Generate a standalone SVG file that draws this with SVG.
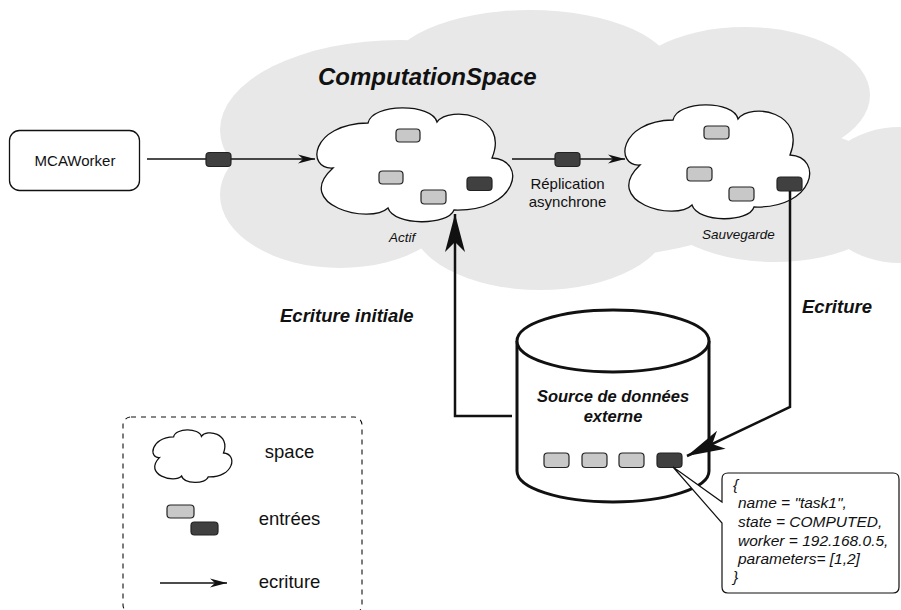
<svg xmlns="http://www.w3.org/2000/svg" width="901" height="610" viewBox="0 0 901 610">
<defs>
<style>
text{font-family:"Liberation Sans",Arial,Helvetica,sans-serif;fill:#111}
.bi{font-weight:bold;font-style:italic}
.it{font-style:italic}
.cloud{fill:#fff;stroke:#111;stroke-width:1.3}
.el{fill:#c8c8c8;stroke:#222;stroke-width:1.2}
.ed{fill:#404040;stroke:#222;stroke-width:1.2}
.thin{fill:none;stroke:#111;stroke-width:1.3}
.thick{fill:none;stroke:#111;stroke-width:2.5}
.gray{fill:#e8e8e8}
</style>
<marker id="ah" markerUnits="userSpaceOnUse" viewBox="-18 -6 19 12" markerWidth="19" markerHeight="12" refX="0" refY="0" orient="auto"><path d="M0,0 L-17,-4.5 L-12,0 L-17,4.5 Z" fill="#111"/></marker>
<marker id="ahb" markerUnits="userSpaceOnUse" viewBox="-40 -12 41 24" markerWidth="41" markerHeight="24" refX="0" refY="0" orient="auto"><path d="M0,0 L-38,-10 L-28,0 L-38,10 Z" fill="#111"/></marker>
</defs>
<rect width="901" height="610" fill="#fff"/>

<g id="computation-space">
<ellipse class="gray" cx="400" cy="130" rx="180" ry="90"/>
<ellipse class="gray" cx="530" cy="75" rx="145" ry="65"/>
<ellipse class="gray" cx="745" cy="95" rx="125" ry="68"/>
<ellipse class="gray" cx="900" cy="195" rx="85" ry="68"/>
<ellipse class="gray" cx="775" cy="195" rx="125" ry="67"/>
<ellipse class="gray" cx="540" cy="220" rx="130" ry="70"/>
<ellipse class="gray" cx="340" cy="195" rx="120" ry="73"/>
<ellipse class="gray" cx="560" cy="160" rx="250" ry="100"/>
<text x="318" y="85" class="bi" font-size="24">ComputationSpace</text>
</g>

<g id="actif">
<path class="cloud" d="M333,168 C306,170 310,124 368,123 C372,103 432,103 437,122 C450,105 510,115 492,158 C528,160 518,212 454,210 C448,226 394,226 388,208 C370,225 292,205 333,168 Z"/>
<rect class="el" x="396" y="129" width="24" height="13" rx="3.5"/>
<rect class="el" x="379" y="171" width="24" height="13" rx="3.5"/>
<rect class="el" x="421" y="190" width="25" height="14" rx="3.5"/>
<rect class="ed" x="467" y="177" width="25" height="13.5" rx="3.5"/>
<text x="389" y="242" class="it" font-size="13.5">Actif</text>
</g>

<g id="sauvegarde">
<path class="cloud" d="M640,165 C615,167 618,121 673,120 C677,100 734,100 738,119 C751,102 807,112 790,155 C824,157 815,209 754,207 C749,223 698,223 692,205 C675,222 601,202 640,165 Z"/>
<rect class="el" x="704" y="126" width="25" height="13" rx="3.5"/>
<rect class="el" x="687" y="167" width="25" height="14" rx="3.5"/>
<rect class="el" x="729" y="187" width="25" height="14" rx="3.5"/>
<rect class="ed" x="777" y="177" width="25" height="14" rx="3.5"/>
<text x="702" y="239" class="it" font-size="13.5">Sauvegarde</text>
</g>

<g id="mcaworker">
<rect x="9.5" y="130.5" width="130" height="60" rx="10" fill="#fff" stroke="#111" stroke-width="1.3"/>
<text x="75" y="166" font-size="15" text-anchor="middle">MCAWorker</text>
</g>

<g id="source-donnees">
<path d="M517,341 V471 A96,31 0 0 0 709,471 V341" fill="#fff" stroke="#111" stroke-width="3"/>
<ellipse cx="613" cy="341" rx="96" ry="31" fill="#fff" stroke="#111" stroke-width="3"/>
<text x="613" y="401.5" class="bi" font-size="16.5" text-anchor="middle">Source de données</text>
<text x="613" y="421.5" class="bi" font-size="16.5" text-anchor="middle">externe</text>
<rect class="el" x="544" y="453" width="25" height="14.5" rx="3.5"/>
<rect class="el" x="582" y="453" width="25" height="14.5" rx="3.5"/>
<rect class="el" x="619" y="453" width="25" height="14.5" rx="3.5"/>
<rect class="ed" x="657" y="453" width="25" height="14.5" rx="3.5"/>
</g>

<g id="connectors">
<path class="thin" d="M147,159 H315" marker-end="url(#ah)"/>
<rect class="ed" x="206" y="152.5" width="25" height="14" rx="3.5"/>
<path class="thin" d="M512,159 H625" marker-end="url(#ah)"/>
<rect class="ed" x="555" y="152.5" width="25" height="14" rx="3.5"/>
<text x="567.5" y="189" font-size="15" text-anchor="middle">Réplication</text>
<text x="567.5" y="207" font-size="15" text-anchor="middle">asynchrone</text>
<path class="thick" d="M512,416 H455 V214" marker-end="url(#ahb)"/>
<text x="280" y="322" class="bi" font-size="18.5">Ecriture initiale</text>
<path class="thick" d="M790,191 V407 L687,456" marker-end="url(#ahb)"/>
<text x="802" y="313" class="bi" font-size="18.5">Ecriture</text>
</g>

<g id="callout">
<path d="M728,473 H893 Q899,473 899,479 V587 Q899,593 893,593 H728 Q722,593 722,587 V523 L673,467 L722,502 V479 Q722,473 728,473 Z" fill="#fff" stroke="#111" stroke-width="1.2"/>
<text x="733" y="490" class="it" font-size="15.5">{</text>
<text x="738" y="508.3" class="it" font-size="15.5">name = "task1",</text>
<text x="738" y="527.3" class="it" font-size="15.5">state = COMPUTED,</text>
<text x="738" y="546" class="it" font-size="15.5">worker = 192.168.0.5,</text>
<text x="738" y="564.3" class="it" font-size="15.5">parameters= [1,2]</text>
<text x="733" y="581.7" class="it" font-size="15.5">}</text>
</g>

<g id="legend">
<rect x="123" y="417" width="239" height="196" rx="8" fill="none" stroke="#111" stroke-width="1.1" stroke-dasharray="5 5"/>
<path class="cloud" d="M159.4,457.6 C148.6,458.5 150.2,437.4 173.6,436.9 C175.2,427.7 199.3,427.7 201.4,436.4 C206.6,428.6 230.8,433.2 223.5,453 C238,453.9 234,477.8 208.2,476.9 C205.8,484.3 184,484.3 181.6,476 C174.4,483.8 142.9,474.6 159.4,457.6 Z"/>
<text x="289.5" y="458" font-size="18.5" text-anchor="middle">space</text>
<rect class="el" x="167" y="505" width="27" height="13" rx="3.5"/>
<rect class="ed" x="191" y="522" width="27" height="13" rx="3.5"/>
<text x="289.5" y="525" font-size="18.5" text-anchor="middle">entrées</text>
<path class="thin" d="M160,583 H227" marker-end="url(#ah)"/>
<text x="289.5" y="588" font-size="18.5" text-anchor="middle">ecriture</text>
</g>
</svg>
